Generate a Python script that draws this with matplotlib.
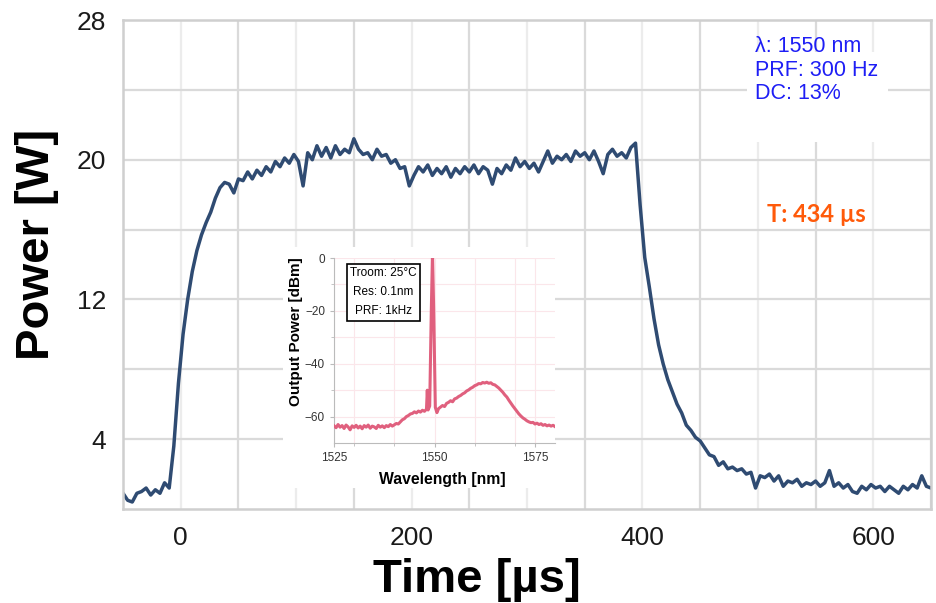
import matplotlib.pyplot as plt
import matplotlib.patches as mpatches
import numpy as np

plt.rcParams['font.family'] = ['Liberation Sans', 'DejaVu Sans']

# main pulse trace: power [W] sampled every 4 us starting at -50 us
t_start = -50
t_step = 4
power = [
    0.9, 0.5, 0.4, 0.9, 1.0, 1.2, 0.8, 1.1, 0.9, 1.5,
    1.2, 3.6, 7.2, 10.0, 12.0, 13.6, 14.8, 15.7, 16.4, 17.0,
    17.8, 18.4, 18.7, 18.6, 18.1, 18.9, 18.8, 19.3, 18.9, 19.4,
    19.1, 19.6, 19.3, 19.9, 19.6, 20.1, 19.8, 20.3, 19.9, 18.5,
    20.4, 20.0, 20.8, 20.2, 20.7, 20.1, 20.8, 20.3, 20.6, 20.4,
    21.2, 20.6, 20.3, 20.4, 20.0, 20.6, 20.2, 20.3, 19.8, 20.0,
    19.5, 19.6, 18.5, 19.1, 19.6, 19.3, 19.7, 19.1, 19.5, 19.2,
    19.6, 19.0, 19.5, 19.2, 19.6, 19.3, 19.7, 19.2, 19.6, 19.4,
    18.6, 19.5, 19.2, 19.7, 19.4, 20.1, 19.6, 19.9, 19.5, 19.8,
    19.3, 19.9, 20.5, 19.8, 20.2, 20.0, 20.3, 19.9, 20.5, 20.2,
    20.4, 20.0, 20.5, 19.9, 19.2, 20.3, 20.6, 20.2, 20.4, 20.1,
    20.7, 20.95, 17.4, 14.4, 12.7, 10.9, 9.4, 8.3, 7.4, 6.7,
    6.0, 5.5, 4.8, 4.5, 4.1, 3.9, 3.5, 3.1, 3.0, 2.5,
    2.7, 2.3, 2.4, 2.2, 2.3, 2.0, 2.1, 1.2, 1.9, 1.8,
    2.0, 1.6, 1.9, 1.3, 1.6, 1.5, 1.7, 1.3, 1.5, 1.4,
    1.6, 1.3, 1.5, 2.2, 1.3, 1.5, 1.2, 1.4, 1.0, 0.9,
    1.3, 1.1, 1.4, 1.2, 1.3, 1.0, 1.3, 1.1, 0.9, 1.3,
    1.1, 1.4, 1.2, 1.9, 1.3, 1.2,
]
time_us = t_start + t_step * np.arange(len(power))

# inset spectrum
wavelength = [
    1525, 1525.5, 1526, 1526.5, 1527, 1527.5, 1528, 1528.5, 1529, 1529.5,
    1530, 1530.5, 1531, 1531.5, 1532, 1532.5, 1533, 1533.5, 1534, 1534.5,
    1535, 1535.5, 1536, 1536.5, 1537, 1537.5, 1538, 1538.5, 1539, 1539.5,
    1540, 1540.5, 1541, 1541.5, 1542, 1542.5, 1543, 1543.5, 1544, 1544.5,
    1545, 1545.5, 1546, 1546.5, 1547, 1547.5, 1548, 1548.2, 1548.4, 1548.8,
    1549.2, 1549.5, 1549.8, 1550.2, 1550.6, 1551, 1551.5, 1552, 1552.5, 1553,
    1553.5, 1554, 1554.5, 1555, 1555.5, 1556, 1556.5, 1557, 1557.5, 1558,
    1558.5, 1559, 1559.5, 1560, 1560.5, 1561, 1561.5, 1562, 1562.5, 1563,
    1563.5, 1564, 1564.5, 1565, 1565.5, 1566, 1566.5, 1567, 1567.5, 1568,
    1568.5, 1569, 1569.5, 1570, 1570.5, 1571, 1571.5, 1572, 1572.5, 1573,
    1573.5, 1574, 1574.5, 1575, 1575.5, 1576, 1576.5, 1577, 1577.5, 1578,
    1578.5, 1579, 1579.5, 1580,
]
spectrum_dbm = [
    -63.5, -64.2, -63.0, -64.0, -63.4, -64.5, -63.2, -63.9, -65.0, -63.5,
    -64.1, -63.3, -64.3, -63.6, -64.6, -63.4, -64.0, -63.2, -64.4, -63.6,
    -63.9, -64.5, -63.3, -64.0, -63.5, -64.2, -63.4, -63.8, -63.0, -63.6,
    -63.1, -62.6, -62.8, -62.0, -61.2, -60.8, -60.0, -59.6, -59.0, -58.8,
    -58.2, -58.6, -57.9, -58.3, -57.6, -58.0, -57.2, -50.0, -57.5, -56.0,
    -20.0, 2.0, -20.0, -56.5, -58.5, -57.0, -56.4, -55.8, -56.2, -55.0,
    -54.6, -54.0, -54.4, -53.3, -53.0, -52.4, -52.0, -51.4, -51.0, -50.3,
    -49.9, -49.3, -48.9, -48.3, -48.0, -47.5, -47.6, -47.1, -47.3, -47.0,
    -47.4, -47.2, -47.8, -48.0, -48.6, -49.2, -50.0, -50.8, -51.8, -52.6,
    -53.8, -54.9, -56.0, -57.0, -58.0, -59.0, -59.8, -60.5, -61.0, -61.6,
    -62.0, -62.3, -62.2, -62.8, -62.5, -63.0, -62.7, -63.3, -63.0, -63.5,
    -63.2, -63.6, -63.3, -63.8,
]

fig = plt.figure(figsize=(9.37, 6.03), dpi=100)
ax = fig.add_axes([0.1313, 0.1559, 0.8623, 0.8109])

# grid: lighter lines on multiples of 100, darker on the odd 50s
for xv in np.arange(0, 651, 100):
    ax.axvline(xv, color='#ececec', lw=1.6, zorder=0)
for xv in np.arange(50, 651, 100):
    ax.axvline(xv, color='#dadada', lw=1.6, zorder=0)
for yv in np.arange(4, 28, 4):
    ax.axhline(yv, color='#dadada', lw=1.6, zorder=0)

ax.plot(time_us, power, color='#2f4b72', lw=2.5, zorder=2)

ax.set_xlim(-50, 650)
ax.set_ylim(0, 28)
ax.set_xticks([0, 200, 400, 600])
ax.set_yticks([4, 12, 20, 28])
ax.tick_params(length=0, labelsize=19, pad=12, labelcolor='#1a1a1a')
for s in ax.spines.values():
    s.set_color('#cfcfcf')
    s.set_linewidth(1.8)

fig.text(37 / 937, 1 - 244 / 603, 'Power [W]', rotation=90, ha='center',
         va='center', fontsize=34, fontweight='bold')
fig.text(477 / 937, 1 - 580 / 603, 'Time [µs]', ha='center', va='center',
         fontsize=34, fontweight='bold')

# annotation block
ax.add_patch(mpatches.Rectangle((747 / 937, 1 - 142 / 603), 141 / 937, 90 / 603,
                                transform=fig.transFigure, facecolor='white',
                                edgecolor='none', zorder=3, clip_on=False))
ax.text(755 / 937, 1 - 70 / 603, 'λ: 1550 nm\nPRF: 300 Hz\nDC: 13%',
        transform=fig.transFigure, ha='left', va='center', fontsize=15.5,
        color='#1e1ef5', linespacing=1.15, zorder=4)
ax.text(816 / 937, 1 - 215 / 603, 'T: 434 µs', transform=fig.transFigure,
        ha='center', va='center', fontsize=17, fontweight='bold',
        color='#ff5a0a', family=['Lato', 'DejaVu Sans'], zorder=4)

# white panel behind the inset
ax.add_patch(mpatches.Rectangle((283 / 937, 1 - 488 / 603), 272 / 937, 241 / 603,
                                transform=fig.transFigure, facecolor='white',
                                edgecolor='none', zorder=5, clip_on=False))

axin = fig.add_axes([0.3565, 0.2653, 0.2359, 0.3068])
axin.set_facecolor('white')
axin.plot(wavelength, spectrum_dbm, color='#e0607e', lw=2.2, zorder=3)
axin.set_xlim(1525, 1580)
axin.set_ylim(-70, 0)
axin.set_xticks([1525, 1550, 1575])
axin.set_xticks([1530, 1540, 1560, 1570], minor=True)
axin.set_yticks([0, -20, -40, -60])
axin.set_yticks([-10, -30, -50], minor=True)
axin.grid(which='both', color='#fbe6ea', lw=0.8)
axin.tick_params(labelsize=8.5, labelcolor='#333333', color='#bbbbbb', length=3)
axin.tick_params(which='minor', length=2, color='#bbbbbb')
for side in ['top', 'right']:
    axin.spines[side].set_visible(False)
for side in ['left', 'bottom']:
    axin.spines[side].set_color('#bbbbbb')
axin.text(-0.17, 0.6, 'Output Power [dBm]', transform=axin.transAxes,
          rotation=90, ha='center', va='center', fontsize=11, fontweight='bold')
axin.text(0.489, -0.195, 'Wavelength [nm]', transform=axin.transAxes,
          ha='center', va='center', fontsize=11.3, fontweight='bold')
axin.text(0.224, 0.815, 'Troom: 25°C\nRes: 0.1nm\nPRF: 1kHz',
          transform=axin.transAxes, ha='center', va='center', fontsize=8.5,
          linespacing=1.75, zorder=5,
          bbox=dict(boxstyle='square,pad=0.3', facecolor='white',
                    edgecolor='black', lw=1.2))

fig.savefig('out.png', dpi=100)
